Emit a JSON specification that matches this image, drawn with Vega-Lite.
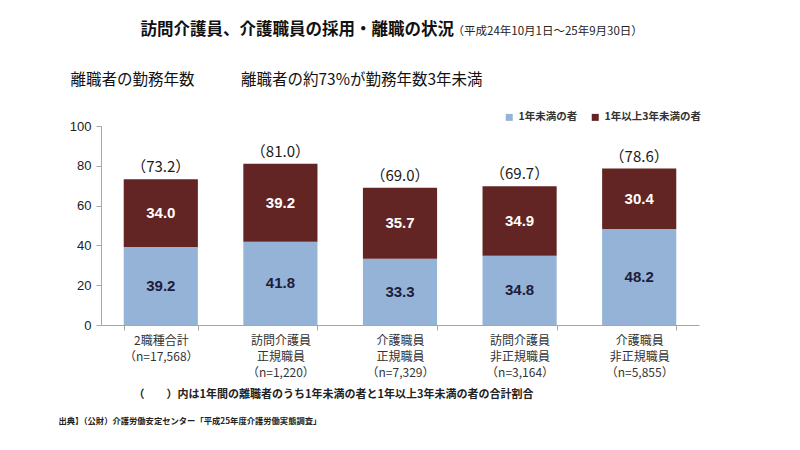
{
  "$schema": "https://vega.github.io/schema/vega-lite/v6.json",
  "width": 598,
  "height": 199,
  "autosize": {"type": "none"},
  "padding": {"left": 101, "top": 126, "right": 101, "bottom": 125},
  "background": "white",
  "config": {
    "font": "Noto Sans CJK JP",
    "view": {"stroke": null},
    "axis": {"grid": false, "titleLimit": 1000}
  },
  "data": {
    "values": [
      {"cat": "2職種合計|（n=17,568）", "series": "1年未満の者", "value": 39.2, "total": "（73.2）", "totalValue": 73.2},
      {"cat": "2職種合計|（n=17,568）", "series": "1年以上3年未満の者", "value": 34.0, "total": "（73.2）", "totalValue": 73.2},
      {"cat": "訪問介護員|正規職員|（n=1,220）", "series": "1年未満の者", "value": 41.8, "total": "（81.0）", "totalValue": 81.0},
      {"cat": "訪問介護員|正規職員|（n=1,220）", "series": "1年以上3年未満の者", "value": 39.2, "total": "（81.0）", "totalValue": 81.0},
      {"cat": "介護職員|正規職員|（n=7,329）", "series": "1年未満の者", "value": 33.3, "total": "（69.0）", "totalValue": 69.0},
      {"cat": "介護職員|正規職員|（n=7,329）", "series": "1年以上3年未満の者", "value": 35.7, "total": "（69.0）", "totalValue": 69.0},
      {"cat": "訪問介護員|非正規職員|（n=3,164）", "series": "1年未満の者", "value": 34.8, "total": "（69.7）", "totalValue": 69.7},
      {"cat": "訪問介護員|非正規職員|（n=3,164）", "series": "1年以上3年未満の者", "value": 34.9, "total": "（69.7）", "totalValue": 69.7},
      {"cat": "介護職員|非正規職員|（n=5,855）", "series": "1年未満の者", "value": 48.2, "total": "（78.6）", "totalValue": 78.6},
      {"cat": "介護職員|非正規職員|（n=5,855）", "series": "1年以上3年未満の者", "value": 30.4, "total": "（78.6）", "totalValue": 78.6}
    ]
  },
  "resolve": {"axis": {"x": "independent", "y": "independent"}},
  "layer": [
    {
      "mark": {"type": "bar"},
      "encoding": {
        "x": {
          "field": "cat", "type": "nominal", "sort": null,
          "scale": {"domain": ["2職種合計|（n=17,568）", "訪問介護員|正規職員|（n=1,220）", "介護職員|正規職員|（n=7,329）", "訪問介護員|非正規職員|（n=3,164）", "介護職員|非正規職員|（n=5,855）"], "paddingInner": 0.38, "paddingOuter": 0.19},
          "axis": {
            "orient": "bottom",
            "labelExpr": "split(datum.label, '|')",
            "labelAngle": 0,
            "labelFontSize": 12,
            "labelColor": "#333333",
            "labelLineHeight": 16,
            "labelPadding": 5,
            "tickBand": "extent",
            "tickSize": 5,
            "tickColor": "#a6a6a6",
            "domainColor": "#a6a6a6",
            "title": "（　　）内は1年間の離職者のうち1年未満の者と1年以上3年未満の者の合計割合",
            "titleX": 32,
            "titleY": 72,
            "titleAlign": "left",
            "titleAnchor": null,
            "titleBaseline": "alphabetic",
            "titleAngle": 0,
            "titleFontSize": 11,
            "titleFontWeight": "bold",
            "titleColor": "#222222"
          }
        },
        "y": {
          "field": "value", "type": "quantitative", "stack": "zero",
          "scale": {"domain": [0, 100], "nice": false},
          "axis": {
            "orient": "left",
            "values": [0, 20, 40, 60, 80, 100],
            "labelFont": "Liberation Sans",
            "labelFontSize": 13,
            "labelColor": "#222222",
            "labelPadding": 5,
            "tickSize": 5,
            "tickColor": "#a6a6a6",
            "domainColor": "#a6a6a6",
            "title": "離職者の勤務年数　　　離職者の約73%が勤務年数3年未満",
            "titleX": -31,
            "titleY": -42,
            "titleAlign": "left",
            "titleAnchor": null,
            "titleBaseline": "alphabetic",
            "titleAngle": 0,
            "titleFontSize": 15.5,
            "titleFontWeight": "normal",
            "titleColor": "#111111"
          }
        },
        "color": {
          "field": "series", "type": "nominal",
          "scale": {"domain": ["1年未満の者", "1年以上3年未満の者"], "range": ["#95B3D7", "#632523"]},
          "legend": {
            "orient": "none",
            "direction": "horizontal",
            "legendX": 403,
            "legendY": -14,
            "title": null,
            "symbolType": "square",
            "symbolSize": 49,
            "symbolStrokeWidth": 0,
            "labelFontSize": 10.5,
            "labelFontWeight": "bold",
            "labelColor": "#333333",
            "labelOffset": 4,
            "columnPadding": 12
          }
        },
        "order": {"field": "series", "sort": "descending"}
      }
    },
    {
      "mark": {"type": "text", "font": "Liberation Sans", "fontSize": 15, "fontWeight": "bold", "baseline": "middle"},
      "encoding": {
        "x": {
          "field": "cat", "type": "nominal", "sort": null,
          "scale": {"domain": ["2職種合計|（n=17,568）", "訪問介護員|正規職員|（n=1,220）", "介護職員|正規職員|（n=7,329）", "訪問介護員|非正規職員|（n=3,164）", "介護職員|非正規職員|（n=5,855）"], "paddingInner": 0.38, "paddingOuter": 0.19},
          "axis": {
            "orient": "bottom",
            "labels": false, "ticks": false, "domain": false,
            "title": "出典】（公財）介護労働安定センター「平成25年度介護労働実態調査」",
            "titleX": -43,
            "titleY": 98,
            "titleAlign": "left",
            "titleAnchor": null,
            "titleBaseline": "alphabetic",
            "titleAngle": 0,
            "titleFontSize": 8.3,
            "titleFontWeight": "bold",
            "titleColor": "#222222"
          }
        },
        "y": {
          "field": "value", "type": "quantitative", "stack": "zero", "bandPosition": 0.5,
          "scale": {"domain": [0, 100], "nice": false},
          "axis": null
        },
        "detail": {"field": "series"},
        "order": {"field": "series", "sort": "descending"},
        "text": {"field": "value", "type": "quantitative", "format": ".1f"},
        "color": {"condition": {"test": "datum.series === '1年未満の者'", "value": "#1c1c3c"}, "value": "#ffffff"}
      }
    },
    {
      "transform": [{"filter": "datum.series === '1年未満の者'"}],
      "mark": {"type": "text", "fontSize": 15, "baseline": "bottom", "dy": -4, "color": "#1a1a1a"},
      "encoding": {
        "x": {
          "field": "cat", "type": "nominal", "sort": null,
          "scale": {"domain": ["2職種合計|（n=17,568）", "訪問介護員|正規職員|（n=1,220）", "介護職員|正規職員|（n=7,329）", "訪問介護員|非正規職員|（n=3,164）", "介護職員|非正規職員|（n=5,855）"], "paddingInner": 0.38, "paddingOuter": 0.19},
          "axis": {
            "orient": "top",
            "labels": false, "ticks": false, "domain": false,
            "title": "訪問介護員、介護職員の採用・離職の状況",
            "titleX": 39,
            "titleY": -92,
            "titleAlign": "left",
            "titleAnchor": null,
            "titleBaseline": "alphabetic",
            "titleAngle": 0,
            "titleFontSize": 16.5,
            "titleFontWeight": "bold",
            "titleColor": "#111111"
          }
        },
        "y": {
          "field": "totalValue", "type": "quantitative",
          "scale": {"domain": [0, 100], "nice": false},
          "axis": {
            "orient": "right",
            "labels": false, "ticks": false, "domain": false,
            "title": "（平成24年10月1日～25年9月30日）",
            "titleX": -247,
            "titleY": -92,
            "titleAlign": "left",
            "titleAnchor": null,
            "titleBaseline": "alphabetic",
            "titleAngle": 0,
            "titleFontSize": 11.5,
            "titleFontWeight": "normal",
            "titleColor": "#222222"
          }
        },
        "text": {"field": "total"}
      }
    }
  ]
}
